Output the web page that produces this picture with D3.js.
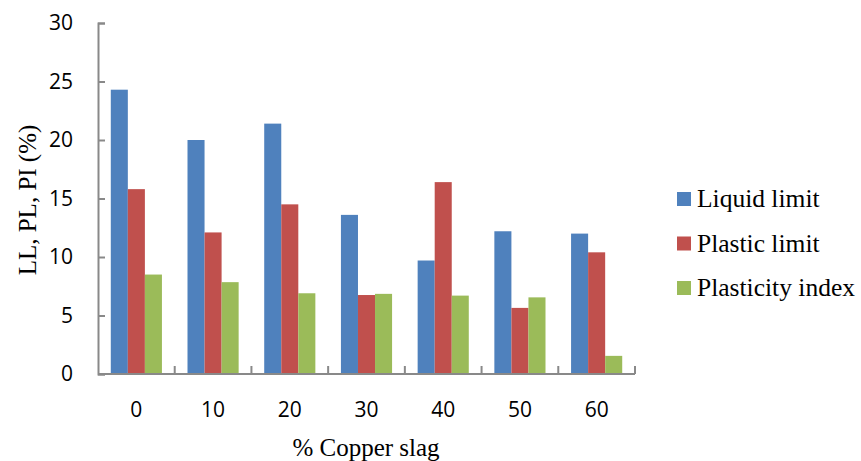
<!DOCTYPE html>
<html>
<head>
<meta charset="utf-8">
<script src="https://cdn.jsdelivr.net/npm/d3@7"></script>
<style>
  body { margin: 0; background: #fff; }
  svg { display: block; }
</style>
</head>
<body>
<div id="chart"></div>
<script>
const categories = ['0', '10', '20', '30', '40', '50', '60']
const seriesNames = ['Liquid limit', 'Plastic limit', 'Plasticity index']
const liquidLimit = [24.3, 20.0, 21.4, 13.6, 9.7, 12.2, 12.0]
const plasticLimit = [15.8, 12.1, 14.5, 6.75, 16.4, 5.65, 10.4]
const plasticityIndex = [8.5, 7.85, 6.9, 6.85, 6.7, 6.55, 1.55]
const yTicks = [0, 5, 10, 15, 20, 25, 30]

const colors = ['#4F81BD', '#C0504D', '#9BBB59']
const series = [liquidLimit, plasticLimit, plasticityIndex]

const sansFont = "'Open Sans', 'Noto Sans', sans-serif"
const serifFont = "'Liberation Serif', 'DejaVu Serif', serif"
const axisColor = '#898989'

const width = 861
const height = 461
const margin = { left: 98, right: 226, top: 23, bottom: 87 }

const svg = d3.select('#chart')
  .append('svg')
  .attr('width', width)
  .attr('height', height)

const scaleX = d3.scaleBand()
  .domain(categories)
  .range([margin.left, width - margin.right])

const scaleY = d3.scaleLinear()
  .domain([0, 30])
  .range([height - margin.bottom, margin.top])

const inner = d3.scaleBand()
  .domain(seriesNames)
  .range([0, scaleX.bandwidth()])
  .paddingOuter(0.75)

// bars
seriesNames.forEach((name, i) => {
  svg.append('g')
    .selectAll('rect')
    .data(series[i])
    .join('rect')
    .attr('x', (d, j) => scaleX(categories[j]) + inner(name))
    .attr('y', (d) => scaleY(d))
    .attr('width', inner.bandwidth())
    .attr('height', (d) => scaleY(0) - scaleY(d))
    .attr('fill', colors[i])
})

// y axis, ticks pointing inward
const axisY = d3.axisLeft(scaleY).tickValues(yTicks).tickSize(-7).tickPadding(25)
const gy = svg.append('g')
  .attr('transform', `translate(${margin.left}, 0)`)
  .call(axisY)
gy.select('.domain').attr('stroke', axisColor).attr('stroke-width', 2)
gy.selectAll('.tick line').attr('stroke', axisColor).attr('stroke-width', 2)
gy.selectAll('.tick text')
  .attr('fill', '#000')
  .style('font-family', sansFont)
  .style('font-size', '21px')

// x axis, tick marks between groups
const gx = svg.append('g')
  .attr('transform', `translate(0, ${scaleY(0)})`)
gx.append('line')
  .attr('x1', margin.left)
  .attr('x2', width - margin.right)
  .attr('stroke', axisColor)
  .attr('stroke-width', 2)
gx.selectAll('line.sep')
  .data(categories)
  .join('line')
  .attr('class', 'sep')
  .attr('x1', (d) => scaleX(d) + scaleX.bandwidth())
  .attr('x2', (d) => scaleX(d) + scaleX.bandwidth())
  .attr('y1', 0)
  .attr('y2', -8)
  .attr('stroke', axisColor)
  .attr('stroke-width', 2)
gx.selectAll('text')
  .data(categories)
  .join('text')
  .attr('x', (d) => scaleX(d) + scaleX.bandwidth() / 2)
  .attr('y', 43)
  .attr('text-anchor', 'middle')
  .style('font-family', sansFont)
  .style('font-size', '21px')
  .text((d) => d)

// axis titles
svg.append('text')
  .attr('x', 366)
  .attr('y', 456)
  .attr('text-anchor', 'middle')
  .style('font-family', serifFont)
  .style('font-size', '25px')
  .text('% Copper slag')

svg.append('text')
  .attr('transform', 'translate(36, 200) rotate(-90)')
  .attr('text-anchor', 'middle')
  .style('font-family', serifFont)
  .style('font-size', '25px')
  .text('LL, PL, PI (%)')

// legend
const legend = svg.append('g')
  .attr('transform', 'translate(677, 207)')
seriesNames.forEach((name, i) => {
  const row = legend.append('g').attr('transform', `translate(0, ${i * 44.5})`)
  row.append('rect')
    .attr('x', 0)
    .attr('y', -15)
    .attr('width', 14)
    .attr('height', 14)
    .attr('fill', colors[i])
  row.append('text')
    .attr('x', 20)
    .attr('y', 0)
    .style('font-family', serifFont)
    .style('font-size', '25.5px')
    .text(name)
})
</script>
</body>
</html>
